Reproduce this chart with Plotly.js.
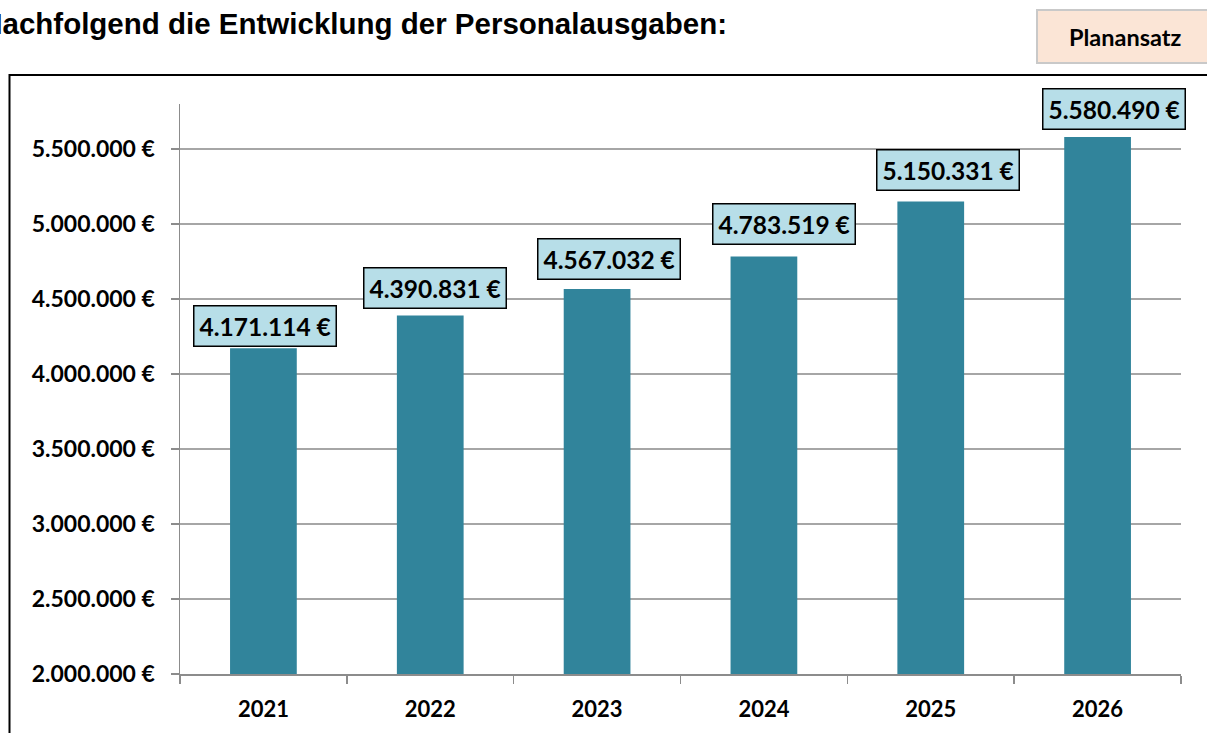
<!DOCTYPE html>
<html>
<head>
<meta charset="utf-8">
<script src="https://cdn.plot.ly/plotly-3.0.1.min.js"></script>
<style>
  html, body { margin: 0; padding: 0; background: #ffffff; }
  #chart { width: 1207px; height: 733px; }
</style>
</head>
<body>
<div id="chart"></div>
<script>
// ---- Data ----
const years = ['2021', '2022', '2023', '2024', '2025', '2026'];
const personalausgaben = [4171114, 4390831, 4567032, 4783519, 5150331, 5580490];
const titleText = 'Nachfolgend die Entwicklung der Personalausgaben:';
const badgeText = 'Planansatz';
const yTickValues = [2000000, 2500000, 3000000, 3500000, 4000000, 4500000, 5000000, 5500000];

// ---- Helpers ----
function fmtEuro(v) {
  const s = Math.round(v).toString().replace(/\B(?=(\d{3})+(?!\d))/g, '.');
  return s + ' €';
}

// ---- Layout tweaks (pixel offsets of the label boxes) ----
const labelDx = [2, 5, 12, 20, 17, 16];
const labelDy = [1, 6, 9, 11, 10, 7];

const W = 1207, H = 733;
const M = { l: 180, r: 26, t: 104, b: 59 };
const PW = W - M.l - M.r, PH = H - M.t - M.b;
const px = x => (x - M.l) / PW;
const py = y => (H - M.b - y) / PH;

const LATO = 'Lato, "Open Sans", sans-serif';

const annotations = years.map((yr, i) => ({
  x: i, y: personalausgaben[i], xref: 'x', yref: 'y',
  text: '<b>' + fmtEuro(personalausgaben[i]) + '</b>',
  showarrow: false,
  xanchor: 'center', yanchor: 'bottom',
  xshift: labelDx[i], yshift: labelDy[i],
  bgcolor: '#b7dee8', bordercolor: '#000000', borderwidth: 1.5, borderpad: 5,
  font: { family: LATO, size: 24.5, color: '#000000' }
}));

annotations.push({
  xref: 'paper', yref: 'paper', x: px(1125), y: py(37),
  text: '<b>' + badgeText + '</b>', showarrow: false,
  xanchor: 'center', yanchor: 'middle',
  font: { family: LATO, size: 23.5, color: '#000000' }
});

const data = [{
  type: 'bar',
  x: years,
  y: personalausgaben,
  marker: { color: '#31849b' },
  hoverinfo: 'skip'
}];

const layout = {
  width: W, height: H,
  margin: M,
  paper_bgcolor: '#ffffff', plot_bgcolor: '#ffffff',
  showlegend: false,
  bargap: 0.6,
  title: {
    text: '<b>' + titleText + '</b>',
    xref: 'container', yref: 'container',
    x: 727 / W, xanchor: 'right',
    y: 1 - 24 / H, yanchor: 'middle',
    font: { family: '"Liberation Sans", Arial, sans-serif', size: 29.5, color: '#000000' }
  },
  xaxis: {
    type: 'category',
    categoryorder: 'array', categoryarray: years,
    range: [-0.5, years.length - 0.5], autorange: false,
    showline: true, linecolor: '#8c8c8c', linewidth: 1.5,
    ticks: 'outside', tickson: 'boundaries', ticklen: 8, tickcolor: '#8c8c8c', tickwidth: 1.5,
    showgrid: false, zeroline: false,
    tickangle: 0,
    ticklabelstandoff: 15,
    tickfont: { family: LATO, size: 22, color: '#000000', weight: 'bold' }
  },
  yaxis: {
    range: [2000000, 5800000], autorange: false,
    tickmode: 'array',
    tickvals: yTickValues,
    ticktext: yTickValues.map(fmtEuro),
    showline: true, linecolor: '#8c8c8c', linewidth: 1.5,
    ticks: 'outside', ticklen: 8, tickcolor: '#8c8c8c', tickwidth: 1.5,
    showgrid: true, gridcolor: '#a6a6a6', gridwidth: 1.5,
    zeroline: false,
    ticklabelstandoff: 11,
    tickfont: { family: LATO, size: 23, color: '#000000', weight: 'bold' }
  },
  shapes: [
    { type: 'rect', xref: 'paper', yref: 'paper', layer: 'below',
      x0: px(9.5), x1: px(1215), y0: py(745), y1: py(75),
      line: { color: '#000000', width: 2 }, fillcolor: 'rgba(0,0,0,0)' },
    { type: 'rect', xref: 'paper', yref: 'paper',
      x0: px(1037), x1: px(1215), y0: py(63), y1: py(10),
      line: { color: '#c9c9c9', width: 2 }, fillcolor: '#fbe5d6' }
  ],
  annotations: annotations
};

Plotly.newPlot('chart', data, layout, { displayModeBar: false, staticPlot: true });
</script>
</body>
</html>
